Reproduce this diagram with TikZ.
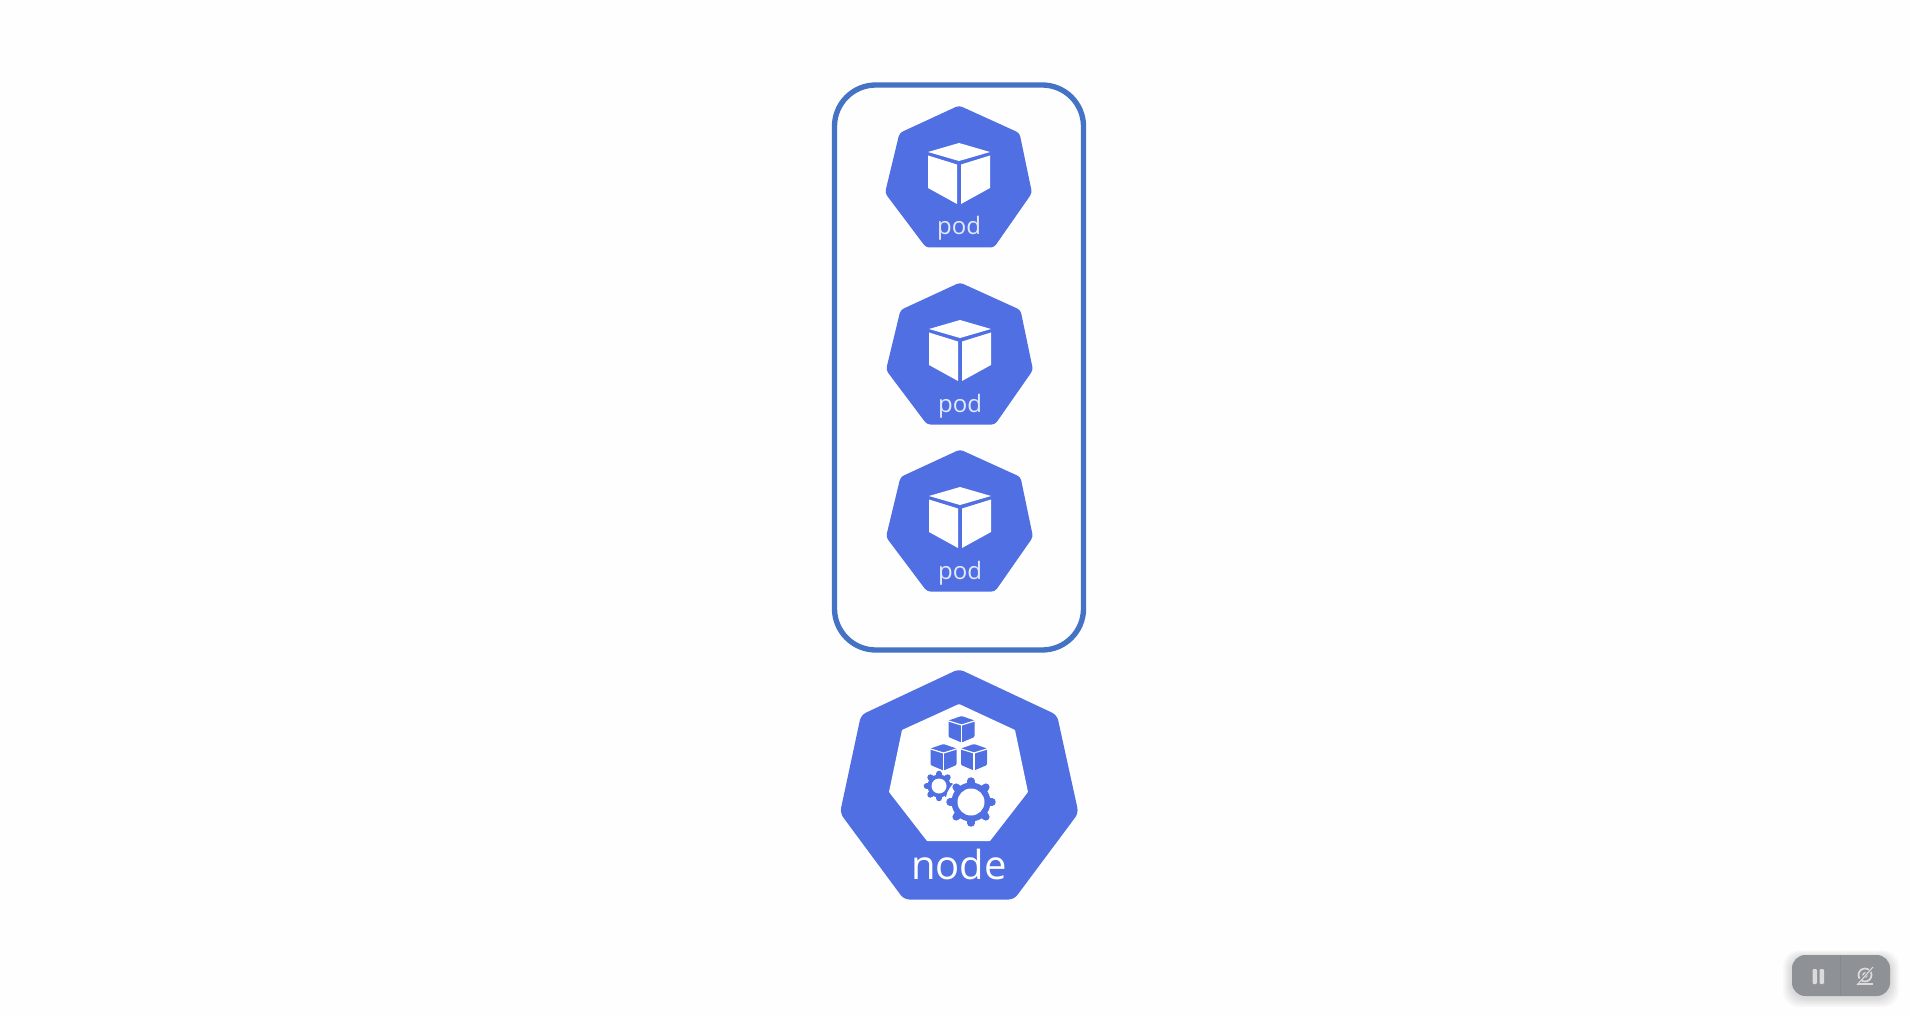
\documentclass[tikz,border=0pt]{standalone}
\usepackage{fontspec}
\setmainfont{Open Sans}
\definecolor{kblue}{HTML}{4F6FE3}
\definecolor{frameblue}{HTML}{4472C4}
\definecolor{ctrlgray}{HTML}{8E9196}
\definecolor{ctrlwhite}{HTML}{DADBDD}
\tikzset{
    hep/.style={fill=kblue,rounded corners=2.5pt},
    hepin/.style={fill=white,rounded corners=.5pt},
    cb/.style={fill=white},
    cbl/.style={white,line width=.9pt},
    gr/.style={kblue,line cap=round},
    lbl/.style={inner sep=0pt,anchor=base},
}
\begin{document}
\begin{tikzpicture}[x=.75pt,y=-.75pt]
    \useasboundingbox (0,0) rectangle (1910,1016);
    \fill[white!99.5!black] (0,0) rectangle (1910,1016);

    % frame round the pods
    \draw[frameblue,line width=4pt,rounded corners=31pt] (834.5,85) rectangle (1083.5,650);

    % the pods
    \foreach \dx/\dy/\nm in {0/0/poda,1/177/podb,1/344/podc}{
        \begin{scope}[shift={(\dx,\dy)}]
            \fill[hep] (959,105.5) -- (1019.5,133) -- (1032,193) -- (994,247.5) -- (926,247.5) -- (885,193) -- (899.5,133) -- cycle;
            \fill[cb] (959,143) -- (990,152) -- (959,161) -- (928,152) -- cycle;
            \fill[cb] (928,155.5) -- (957,164.5) -- (957,204) -- (928,188) -- cycle;
            \fill[cb] (961,164.5) -- (990,155.5) -- (990,188) -- (961,204) -- cycle;
            \node[lbl,text=white!85!kblue] (\nm) at (959,235) {\fontsize{18}{18}\selectfont pod};
        \end{scope}
    }

    % the node
    \fill[hep,rounded corners=4pt] (959,669) -- (1057,715) -- (1078.5,813) -- (1014,899.5) -- (904,899.5) -- (840,813) -- (861,715) -- cycle;
    \fill[hepin] (959,704) -- (1015,730) -- (1028,792) -- (990,841) -- (927,841) -- (889,792) -- (902,730) -- cycle;
    \node[lbl,text=white] (nodelbl) at (959,879) {\fontsize{30}{30}\selectfont node};

    % three small cubes
    \foreach \cx/\cy in {961.5/729,943.5/757,974/757}{
        \begin{scope}[shift={(\cx,\cy)}]
            \fill[kblue,rounded corners=.8pt] (0,-13) -- (13,-8.5) -- (13,8) -- (0,13.5) -- (-13,8) -- (-13,-8.5) -- cycle;
            \draw[cbl] (-13,-8) -- (0,-4) -- (13,-8);
            \draw[cbl] (0,-4) -- (0,13.5);
        \end{scope}
    }

    % the gears
    \foreach \gx/\gy/\rb/\rt/\rh/\rw/\wd in {939/786/11.5/12.2/7.5/13/4.6,971/802/19.5/21/13.5/25.5/5.6}{
        \fill[white] (\gx,\gy) circle (\rw);
        \foreach \a in {0,45,...,315}{
            \draw[gr,line width=\wd pt] (\gx,\gy) -- ++(\a:\rt);
        }
        \fill[kblue] (\gx,\gy) circle (\rb);
        \fill[white] (\gx,\gy) circle (\rh);
    }

    % pause and camera control
    \foreach \i in {1,...,6}{
        \fill[black,opacity=.025,rounded corners=12pt] (1792-\i*1.5,955+2-\i*1.1) rectangle (1890+\i*1.5,996+2+\i*1.5);
    }
    \fill[ctrlgray,rounded corners=10pt] (1792,955) rectangle (1890,996);
    \draw[black!50!ctrlgray,opacity=.1,line width=.75pt] (1840,955) -- (1840,996);
    \fill[ctrlwhite,rounded corners=.8pt] (1812.5,969) rectangle (1817,984);
    \fill[ctrlwhite,rounded corners=.8pt] (1819.5,969) rectangle (1824,984);
    \draw[ctrlwhite,line width=1.3pt] (1865,975) circle (6.5);
    \fill[ctrlwhite] (1865,975) circle (2.8);
    \draw[ctrlwhite,line width=1.3pt] (1857,984) -- (1873,984);
    \draw[ctrlgray,line width=2pt] (1856,984) -- (1873,968);
    \draw[ctrlwhite,line width=.8pt] (1857,985) -- (1873,967);
\end{tikzpicture}
\end{document}
